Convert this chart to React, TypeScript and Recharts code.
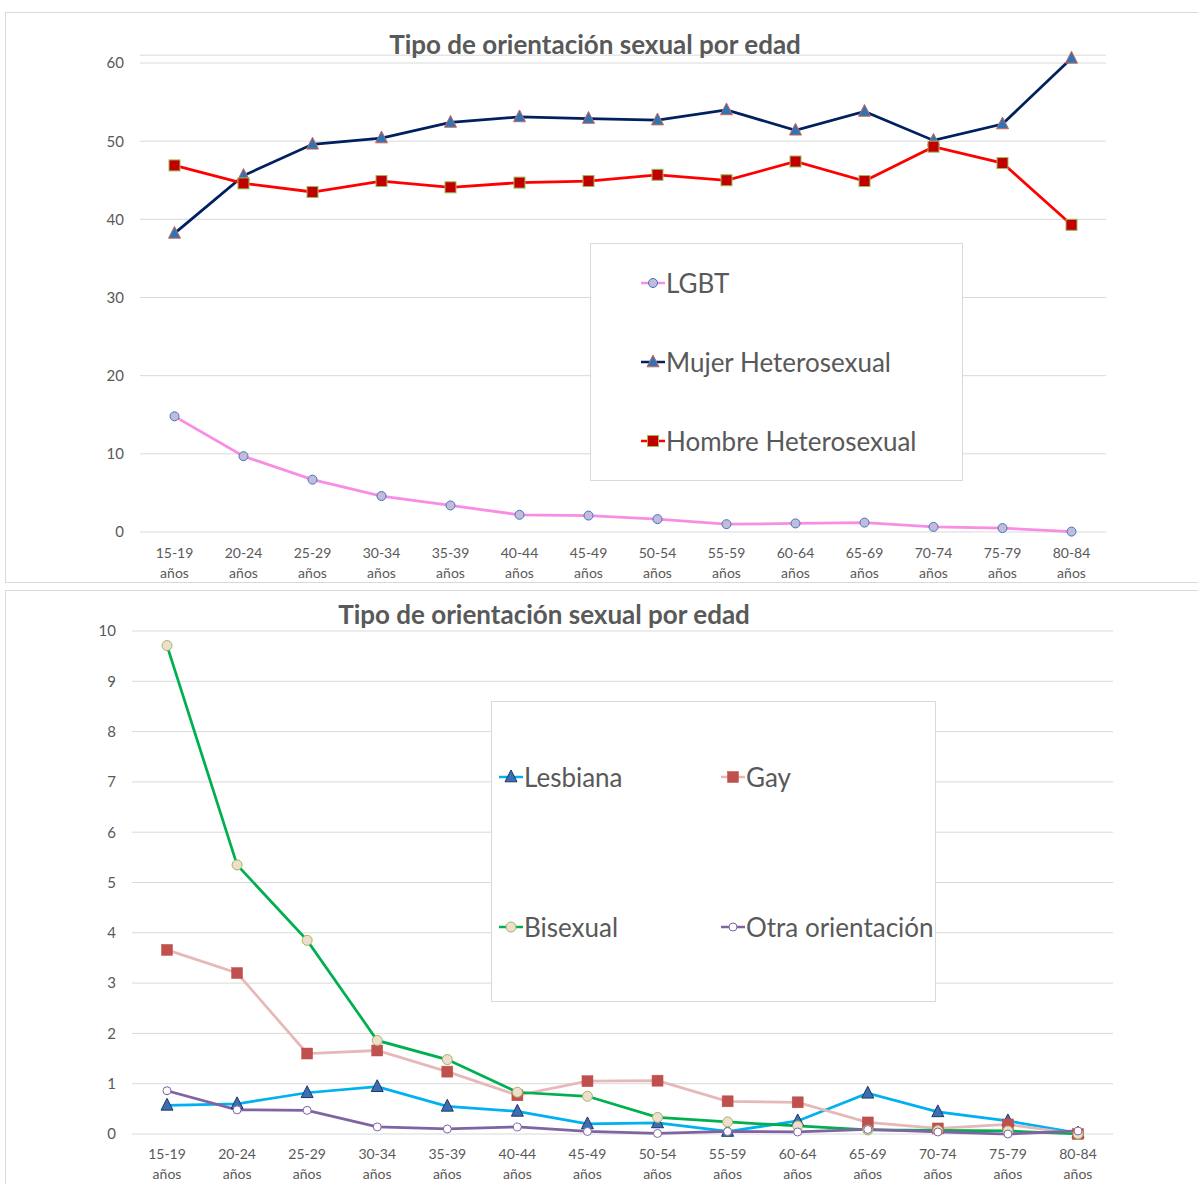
import React from 'react';
import { LineChart, Line, XAxis, YAxis, CartesianGrid, Legend } from 'recharts';

const FONT = 'Lato, "Liberation Sans", sans-serif';
const GREY = '#595959';
const GRID = '#d9d9d9';

const ageGroups = [
  '15-19 años', '20-24 años', '25-29 años', '30-34 años', '35-39 años', '40-44 años', '45-49 años',
  '50-54 años', '55-59 años', '60-64 años', '65-69 años', '70-74 años', '75-79 años', '80-84 años',
];

const lgbt = [14.8, 9.7, 6.7, 4.6, 3.4, 2.2, 2.1, 1.65, 1.0, 1.1, 1.2, 0.65, 0.5, 0.05];
const mujerHetero = [38.2, 45.6, 49.6, 50.4, 52.4, 53.1, 52.9, 52.7, 54.0, 51.4, 53.8, 50.1, 52.2, 60.6];
const hombreHetero = [46.9, 44.6, 43.5, 44.9, 44.1, 44.7, 44.9, 45.7, 45.0, 47.4, 44.9, 49.3, 47.2, 39.3];
const topTicks = [0, 10, 20, 30, 40, 50, 60];

const lesbiana = [0.57, 0.6, 0.82, 0.94, 0.55, 0.45, 0.2, 0.22, 0.05, 0.26, 0.81, 0.44, 0.26, 0.02];
const gay = [3.66, 3.2, 1.6, 1.66, 1.24, 0.77, 1.05, 1.06, 0.65, 0.63, 0.23, 0.11, 0.19, 0.0];
const bisexual = [9.71, 5.35, 3.85, 1.86, 1.48, 0.83, 0.75, 0.33, 0.24, 0.16, 0.08, 0.07, 0.06, 0.0];
const otra = [0.86, 0.48, 0.47, 0.14, 0.1, 0.14, 0.05, 0.01, 0.05, 0.04, 0.09, 0.04, 0.0, 0.06];
const bottomTicks = [0, 1, 2, 3, 4, 5, 6, 7, 8, 9, 10];

const TITLE = 'Tipo de orientación sexual por edad';

const topData = ageGroups.map((age, i) => ({
  age,
  lgbt: lgbt[i],
  mujer: mujerHetero[i],
  hombre: hombreHetero[i],
}));

const bottomData = ageGroups.map((age, i) => ({
  age,
  lesbiana: lesbiana[i],
  gay: gay[i],
  bisexual: bisexual[i],
  otra: otra[i],
}));

type MarkerKind = 'circle' | 'triangle' | 'square';
interface MarkerStyle {
  kind: MarkerKind;
  size: number;
  fill: string;
  stroke: string;
  strokeWidth?: number;
}

const renderMarker = (cx: number, cy: number, m: MarkerStyle, key?: string) => {
  const s = m.size;
  const sw = m.strokeWidth ?? 1;
  if (m.kind === 'circle') {
    return <circle key={key} cx={cx} cy={cy} r={s} fill={m.fill} stroke={m.stroke} strokeWidth={sw} />;
  }
  if (m.kind === 'square') {
    return <rect key={key} x={cx - s} y={cy - s} width={2 * s} height={2 * s} fill={m.fill} stroke={m.stroke} strokeWidth={sw} />;
  }
  return (
    <path
      key={key}
      d={`M${cx},${cy - s - 1} L${cx + s},${cy + s * 0.8} L${cx - s},${cy + s * 0.8} Z`}
      fill={m.fill}
      stroke={m.stroke}
      strokeWidth={sw}
      strokeLinejoin="round"
    />
  );
};

const dotFor = (m: MarkerStyle) => (p: any) => {
  if (p.cx == null || p.cy == null) return <g key={`e${p.index}`} />;
  return renderMarker(p.cx, p.cy, m, `d${p.index}`);
};

const mLgbt: MarkerStyle = { kind: 'circle', size: 4.5, fill: '#c3bcd8', stroke: '#4472c4', strokeWidth: 1 };
const mMujer: MarkerStyle = { kind: 'triangle', size: 6, fill: '#2e75b6', stroke: '#d0655a', strokeWidth: 1 };
const mHombre: MarkerStyle = { kind: 'square', size: 5.5, fill: '#c00000', stroke: '#9bbb59', strokeWidth: 1 };

const mLesb: MarkerStyle = { kind: 'triangle', size: 6, fill: '#3c6eb4', stroke: '#1f3864', strokeWidth: 1 };
const mGay: MarkerStyle = { kind: 'square', size: 5.5, fill: '#c0504d', stroke: '#c0504d', strokeWidth: 0.5 };
const mBi: MarkerStyle = { kind: 'circle', size: 5, fill: '#f0ddd0', stroke: '#9bbb59', strokeWidth: 1 };
const mOtra: MarkerStyle = { kind: 'circle', size: 4, fill: '#ffffff', stroke: '#8064a2', strokeWidth: 1 };

const AgeTick = (dy: number) => (props: any) => {
  const { x, y, payload } = props;
  const [range, word] = String(payload.value).split(' ');
  return (
    <text x={x} y={y} textAnchor="middle" fill={GREY} fontSize={14} fontFamily={FONT}>
      <tspan x={x} dy={dy}>{range}</tspan>
      <tspan x={x} dy={20}>{word}</tspan>
    </text>
  );
};

interface LegendEntry {
  name: string;
  color: string;
  marker: MarkerStyle;
  left: number;
  top: number;
}

const LegendBox = (entries: LegendEntry[], w: number, h: number) => () => (
  <div
    style={{
      position: 'relative',
      width: w,
      height: h,
      boxSizing: 'border-box',
      border: `1px solid ${GRID}`,
      background: '#ffffff',
      fontFamily: FONT,
    }}
  >
    {entries.map((e) => (
      <div
        key={e.name}
        style={{
          position: 'absolute',
          left: e.left,
          top: e.top - 17,
          height: 34,
          display: 'flex',
          alignItems: 'center',
          whiteSpace: 'nowrap',
        }}
      >
        <svg width={26} height={16} style={{ display: 'block' }}>
          <line x1={1} y1={8} x2={25} y2={8} stroke={e.color} strokeWidth={2.5} />
          {renderMarker(13, 8, e.marker)}
        </svg>
        <span style={{ fontSize: 26, color: GREY, marginLeft: 0, lineHeight: '34px' }}>{e.name}</span>
      </div>
    ))}
  </div>
);

const topLegend: LegendEntry[] = [
  { name: 'LGBT', color: '#f88de4', marker: mLgbt, left: 49, top: 39 },
  { name: 'Mujer Heterosexual', color: '#002060', marker: mMujer, left: 49, top: 118 },
  { name: 'Hombre Heterosexual', color: '#ff0000', marker: mHombre, left: 49, top: 197 },
];

const bottomLegend: LegendEntry[] = [
  { name: 'Lesbiana', color: '#00b0f0', marker: mLesb, left: 6, top: 75 },
  { name: 'Gay', color: '#e6b9b8', marker: mGay, left: 228, top: 75 },
  { name: 'Bisexual', color: '#00b050', marker: mBi, left: 6, top: 225 },
  { name: 'Otra orientación', color: '#8064a2', marker: mOtra, left: 228, top: 225 },
];

const panelStyle = (left: number, top: number, w: number, h: number): React.CSSProperties => ({
  position: 'absolute',
  left,
  top,
  width: w,
  height: h,
  boxSizing: 'border-box',
  border: `1px solid ${GRID}`,
  background: '#ffffff',
  overflow: 'hidden',
});

const titleStyle = (cx: number, cy: number): React.CSSProperties => ({
  position: 'absolute',
  left: cx - 300,
  width: 600,
  top: cy - 17,
  height: 34,
  lineHeight: '34px',
  textAlign: 'center',
  fontFamily: FONT,
  fontWeight: 700,
  fontSize: 26,
  color: GREY,
  zIndex: 2,
});

export default function App() {
  return (
    <div style={{ position: 'absolute', left: 0, top: 0, width: 1198, height: 1184, background: '#ffffff' }}>
      {/* Top chart */}
      <div style={panelStyle(5, 12, 1200, 571)}>
        <div style={titleStyle(589, 31)}>{TITLE}</div>
        <LineChart
          width={1193}
          height={570}
          data={topData}
          margin={{ top: 42.2, right: 93, left: 74, bottom: 0 }}
        >
          <CartesianGrid horizontal vertical={false} stroke={GRID} strokeWidth={1} />
          <XAxis
            dataKey="age"
            height={51}
            axisLine={false}
            tickLine={false}
            tickSize={0}
            tickMargin={0}
            interval={0}
            padding={{ left: 34.5, right: 34.5 }}
            tick={AgeTick(26)}
          />
          <YAxis
            width={60}
            domain={[0, 61]}
            ticks={topTicks}
            axisLine={false}
            tickLine={false}
            tickSize={0}
            tickMargin={16}
            tick={{ fill: GREY, fontSize: 15, fontFamily: FONT }}
          />
          <Legend
            layout="vertical"
            align="center"
            verticalAlign="middle"
            wrapperStyle={{ left: 584, top: 230, width: 373, height: 238 }}
            content={LegendBox(topLegend, 373, 238)}
          />
          <Line dataKey="lgbt" name="LGBT" stroke="#f88de4" strokeWidth={2.75} dot={dotFor(mLgbt)} activeDot={false} isAnimationActive={false} />
          <Line dataKey="mujer" name="Mujer Heterosexual" stroke="#002060" strokeWidth={2.75} dot={dotFor(mMujer)} activeDot={false} isAnimationActive={false} />
          <Line dataKey="hombre" name="Hombre Heterosexual" stroke="#ff0000" strokeWidth={2.75} dot={dotFor(mHombre)} activeDot={false} isAnimationActive={false} />
        </LineChart>
      </div>

      {/* Bottom chart */}
      <div style={panelStyle(5, 590, 1200, 600)}>
        <div style={titleStyle(538, 23)}>{TITLE}</div>
        <LineChart
          width={1193}
          height={594}
          data={bottomData}
          margin={{ top: 40, right: 86, left: 66, bottom: 0 }}
        >
          <CartesianGrid horizontal vertical={false} stroke={GRID} strokeWidth={1} />
          <XAxis
            dataKey="age"
            height={51}
            axisLine={false}
            tickLine={false}
            tickSize={0}
            tickMargin={0}
            interval={0}
            padding={{ left: 35, right: 35 }}
            tick={AgeTick(25)}
          />
          <YAxis
            width={60}
            domain={[0, 10]}
            ticks={bottomTicks}
            axisLine={false}
            tickLine={false}
            tickSize={0}
            tickMargin={16}
            tick={{ fill: GREY, fontSize: 15, fontFamily: FONT }}
          />
          <Legend
            layout="vertical"
            align="center"
            verticalAlign="middle"
            wrapperStyle={{ left: 485, top: 110, width: 445, height: 301 }}
            content={LegendBox(bottomLegend, 445, 301)}
          />
          <Line dataKey="lesbiana" name="Lesbiana" stroke="#00b0f0" strokeWidth={2.75} dot={dotFor(mLesb)} activeDot={false} isAnimationActive={false} />
          <Line dataKey="gay" name="Gay" stroke="#e6b9b8" strokeWidth={2.75} dot={dotFor(mGay)} activeDot={false} isAnimationActive={false} />
          <Line dataKey="bisexual" name="Bisexual" stroke="#00b050" strokeWidth={2.75} dot={dotFor(mBi)} activeDot={false} isAnimationActive={false} />
          <Line dataKey="otra" name="Otra orientación" stroke="#8064a2" strokeWidth={2.75} dot={dotFor(mOtra)} activeDot={false} isAnimationActive={false} />
        </LineChart>
      </div>
    </div>
  );
}
